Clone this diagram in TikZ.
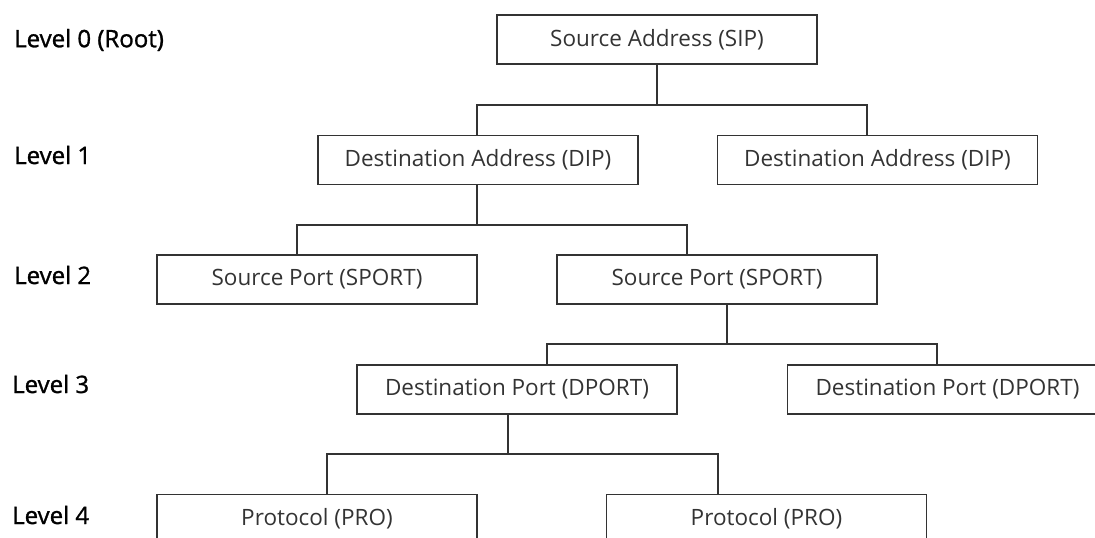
\documentclass[tikz,border=0pt]{standalone}
\usepackage{fontspec}
\setmainfont{Open Sans}
\newfontfamily\labfont{Open Sans}[FakeBold=1.2]
\definecolor{linec}{HTML}{333333}
\definecolor{txtc}{HTML}{333333}
\begin{document}
\begin{tikzpicture}[x=1pt,y=-1pt,
  box/.style={draw=linec,line width=1.3pt,rectangle,minimum width=320pt,minimum height=49pt,inner sep=0pt,
    font=\fontsize{22.5}{26}\selectfont,text=txtc},
  lvl/.style={anchor=west,inner sep=0pt,font=\labfont\fontsize{24}{28}\selectfont,text=black},
  con/.style={draw=linec,line width=1.3pt}]
\useasboundingbox (0,0) rectangle (1095,538);
\clip (0,0) rectangle (1095,538);
% level labels
\node[lvl] (L0) at (14,40) {Level 0 (Root)};
\node[lvl] (L1) at (14,155) {Level 1};
\node[lvl] (L2) at (14,275) {Level 2};
\node[lvl] (L3) at (12,384) {Level 3};
\node[lvl] (L4) at (12,515) {Level 4};
% boxes
\node[box] (root) at (657,39.5) {Source Address (SIP)};
\node[box] (d1) at (478,160) {Destination Address (DIP)};
\node[box] (d2) at (877.5,160) {Destination Address (DIP)};
\node[box] (s1) at (317,279.5) {Source Port (SPORT)};
\node[box] (s2) at (717,279.5) {Source Port (SPORT)};
\node[box] (p1) at (517,389.5) {Destination Port (DPORT)};
\node[box] (p2) at (947.5,389.5) {Destination Port (DPORT)};
\node[box] (r1) at (317,519) {Protocol (PRO)};
\node[box] (r2) at (766.5,519) {Protocol (PRO)};
% connectors
\coordinate (b0) at (657,105);
\coordinate (b1) at (477,225);
\coordinate (b2) at (727,344);
\coordinate (b3) at (508,454);
\draw[con] (root.south) -- (b0);
\draw[con] (b0) -| ([xshift=-1pt]d1.north);
\draw[con] (b0) -| ([xshift=-10.5pt]d2.north);
\draw[con] ([xshift=-1pt]d1.south) -- (b1);
\draw[con] (b1) -| ([xshift=-20pt]s1.north);
\draw[con] (b1) -| ([xshift=-30pt]s2.north);
\draw[con] ([xshift=10pt]s2.south) -- (b2);
\draw[con] (b2) -| ([xshift=30pt]p1.north);
\draw[con] (b2) -| ([xshift=-10.5pt]p2.north);
\draw[con] ([xshift=-9pt]p1.south) -- (b3);
\draw[con] (b3) -| ([xshift=10pt]r1.north);
\draw[con] (b3) -| ([xshift=-48.5pt]r2.north);
\end{tikzpicture}
\end{document}
